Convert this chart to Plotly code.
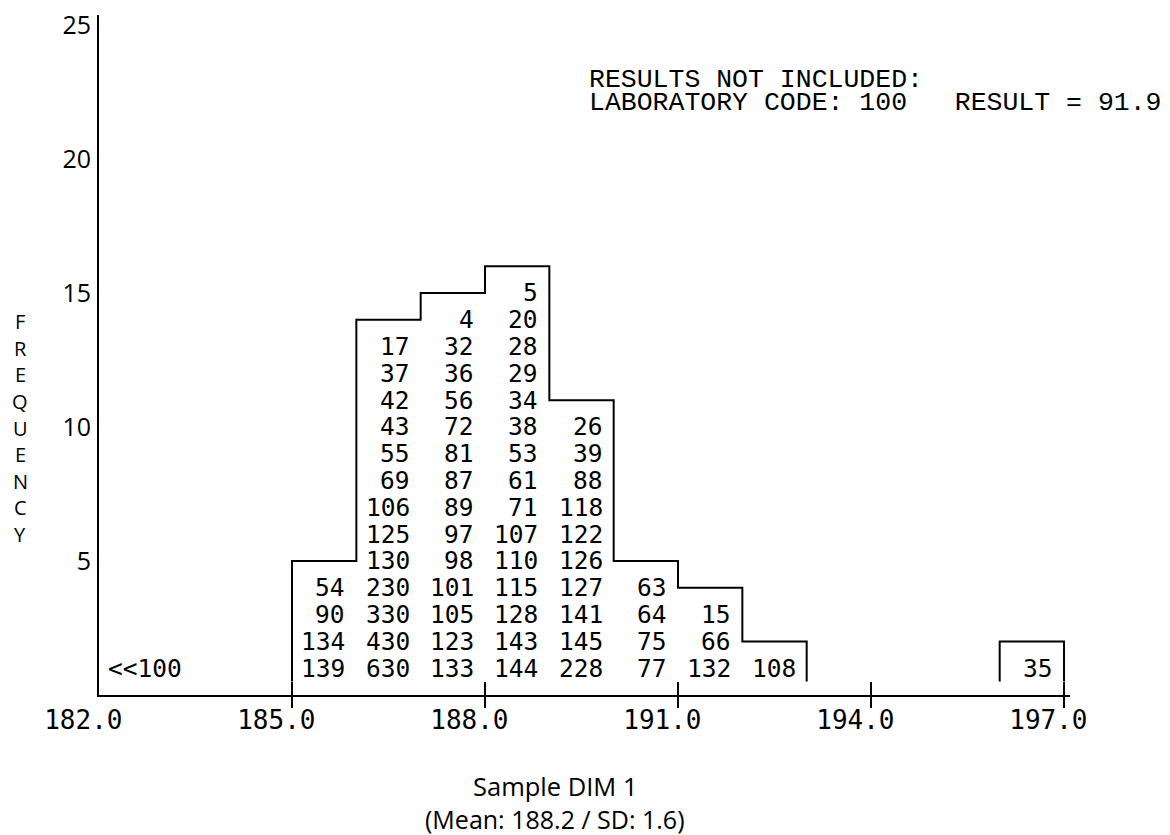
import plotly.graph_objects as go

# ---- data ----
bin_starts = [185, 186, 187, 188, 189, 190, 191, 192, 196]
codes_185 = [139, 134, 90, 54]
codes_186 = [630, 430, 330, 230, 130, 125, 106, 69, 55, 43, 42, 37, 17]
codes_187 = [133, 123, 105, 101, 98, 97, 89, 87, 81, 72, 56, 36, 32, 4]
codes_188 = [144, 143, 128, 115, 110, 107, 71, 61, 53, 38, 34, 29, 28, 20, 5]
codes_189 = [228, 145, 141, 127, 126, 122, 118, 88, 39, 26]
codes_190 = [77, 75, 64, 63]
codes_191 = [132, 66, 15]
codes_192 = [108]
codes_196 = [35]
bin_codes = [codes_185, codes_186, codes_187, codes_188, codes_189,
             codes_190, codes_191, codes_192, codes_196]

low_bin = 182
low_label = "<<100"

x_ticks = [182, 185, 188, 191, 194, 197]
y_ticks = [5, 10, 15, 20, 25]
tick_marks = [185, 188, 191, 194, 197]

excluded_lines = ["RESULTS NOT INCLUDED:",
                  "LABORATORY CODE: 100   RESULT = 91.9"]
x_title = "Sample DIM 1"
x_subtitle = "(Mean: 188.2 / SD: 1.6)"
y_title = "FREQUENCY"

MONO = "DejaVu Sans Mono"
MONO2 = "Liberation Mono"
SANS = "Open Sans"
NB = "\u00a0"

# page body has an 8px default margin; plot area geometry in page pixels:
# left 99, right 1070, top 15, bottom 695
OFF = 8
PW, PH = 1170 - OFF, 835 - OFF
L, T = 99 - OFF, 15 - OFF
PLOT_W, PLOT_H = 971, 680
R = PW - L - PLOT_W
B = PH - T - PLOT_H


def py(page_y):
    return (695 - page_y) / PLOT_H


def px(page_x):
    return (page_x - 99) / PLOT_W


fig = go.Figure()

# ---- step outline (line-printer style: top at count+1, sides down to 0.5) ----
freq = {b: len(c) for b, c in zip(bin_starts, bin_codes)}
groups = []
cur = []
for b in sorted(freq):
    if cur and b != cur[-1] + 1:
        groups.append(cur)
        cur = []
    cur.append(b)
if cur:
    groups.append(cur)

for g in groups:
    xs = [g[0]] + g + [g[-1] + 1]
    ys = [0.5] + [freq[b] + 1 for b in g] + [0.5]
    fig.add_trace(go.Scatter(x=xs, y=ys, mode="lines", line_shape="hv",
                             line=dict(color="black", width=2),
                             hoverinfo="skip", showlegend=False))

# ---- tick marks crossing the axis ----
fig.add_trace(go.Scatter(x=tick_marks, y=[0] * len(tick_marks), mode="markers",
                         marker=dict(symbol="line-ns", size=18.5,
                                     line=dict(color="black", width=2)),
                         cliponaxis=False, hoverinfo="skip", showlegend=False))

annotations = []
for b, codes in zip(bin_starts, bin_codes):
    for k, c in enumerate(codes, start=1):
        annotations.append(dict(x=b + 1, y=k, xref="x", yref="y", text=str(c),
                                showarrow=False, xanchor="right", yanchor="middle",
                                xshift=-9, font=dict(family=MONO, size=24.5, color="black")))
annotations.append(dict(x=low_bin, y=1, xref="x", yref="y", text=low_label,
                        showarrow=False, xanchor="left", yanchor="middle", xshift=7,
                        font=dict(family=MONO, size=24.5, color="black")))

# excluded results text
for line, yy in zip(excluded_lines, [80, 103]):
    annotations.append(dict(x=px(587), y=py(yy), xref="paper", yref="paper",
                            text=line.replace(" ", NB), showarrow=False,
                            xanchor="left", yanchor="middle",
                            font=dict(family=MONO2, size=26.5, color="black")))

# axis titles
annotations.append(dict(x=px(555), y=py(785.5), xref="paper", yref="paper", text=x_title,
                        showarrow=False, xanchor="center", yanchor="middle",
                        font=dict(family=SANS, size=25.5, color="black")))
annotations.append(dict(x=px(555), y=py(818.5), xref="paper", yref="paper", text=x_subtitle,
                        showarrow=False, xanchor="center", yanchor="middle",
                        font=dict(family=SANS, size=25, color="black")))
for i, ch in enumerate(y_title):
    annotations.append(dict(x=px(20), y=py(428 + (i - 4) * 26.6), xref="paper", yref="paper",
                            text=ch, showarrow=False,
                            xanchor="center", yanchor="middle",
                            font=dict(family=SANS, size=20, color="black")))

fig.update_layout(
    width=PW, height=PH,
    margin=dict(l=L, r=R, t=T, b=B, autoexpand=False),
    paper_bgcolor="white", plot_bgcolor="white",
    showlegend=False,
    annotations=annotations,
    xaxis=dict(range=[182, 197.093], showgrid=False, zeroline=False,
               showline=True, linecolor="black", linewidth=2,
               tickmode="array", tickvals=x_ticks,
               ticktext=[f"{v:.1f}" + NB + NB for v in x_ticks],
               ticks="", ticklabelstandoff=1, automargin=False,
               ticklabeloverflow="allow",
               tickfont=dict(family=MONO, size=26, color="black")),
    yaxis=dict(range=[0, 25.37], showgrid=False, zeroline=False,
               showline=True, linecolor="black", linewidth=2,
               tickmode="array", tickvals=y_ticks, ticks="",
               ticklabelstandoff=1, automargin=False,
               ticklabeloverflow="allow",
               tickfont=dict(family=SANS, size=25, color="black")),
)

fig.write_html("out.html")
